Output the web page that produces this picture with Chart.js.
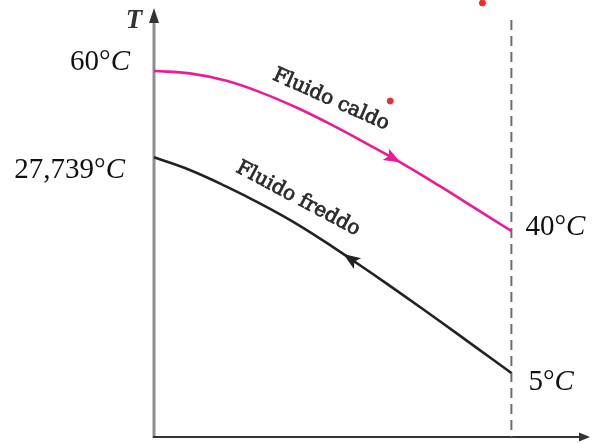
<!DOCTYPE html>
<html>
<head>
<meta charset="utf-8">
<script src="https://cdn.jsdelivr.net/npm/chart.js@4.4.1/dist/chart.umd.min.js"></script>
<style>
  html, body { margin: 0; padding: 0; background: #fff; }
  #wrap { width: 592px; height: 443px; }
</style>
</head>
<body>
<div id="wrap"><canvas id="c" width="592" height="443"></canvas></div>
<script>
// Position along the exchanger (0 = inlet of hot fluid, 1 = outlet)
const positions = [0, 0.1, 0.2, 0.3, 0.4, 0.5, 0.6, 0.7, 0.8, 0.9, 1];
// Hot fluid temperature profile (°C)
const hotTemps = [60, 59.7, 58.8, 57.3, 55.4, 53.2, 50.8, 48.3, 45.6, 42.8, 40];
// Cold fluid temperature profile (°C), counter-current
const coldTemps = [27.739, 26.4, 24.7, 22.8, 20.7, 18.3, 15.75, 13.13, 10.45, 7.73, 5];
// Two small red marks
const dotPositions = [0.661, 0.919];
const dotTemps = [56.25, 68.5];
// Series names
const hotName = 'Fluido caldo';
const coldName = 'Fluido freddo';
const axisName = 'T';

const HOT = '#ec1a96';
const COLD = '#222222';

const xy = (xs, ys) => xs.map((x, i) => ({ x: x, y: ys[i] }));

function fmtTemp(v) {
  return String(v).replace('.', ',') + '°';
}

// Draws "NN°" upright followed by an italic "C"
function drawTemp(ctx, v, x, y, align) {
  const num = fmtTemp(v);
  const upFont = '29px "Liberation Serif"';
  const itFont = 'italic 29px "Liberation Serif"';
  ctx.font = upFont;
  const w1 = ctx.measureText(num).width;
  ctx.font = itFont;
  const w2 = ctx.measureText('C').width;
  let x0 = align === 'right' ? x - (w1 + w2) : x;
  ctx.fillStyle = '#111';
  ctx.textBaseline = 'alphabetic';
  ctx.textAlign = 'left';
  ctx.font = upFont;
  ctx.fillText(num, x0, y);
  ctx.font = itFont;
  ctx.fillText('C', x0 + w1, y);
}

function pointOnLine(meta, px) {
  const pts = meta.data;
  for (let i = 0; i < pts.length - 1; i++) {
    const a = pts[i], b = pts[i + 1];
    if (px >= a.x && px <= b.x) {
      const t = (px - a.x) / (b.x - a.x);
      return { x: a.x + t * (b.x - a.x), y: a.y + t * (b.y - a.y), dx: b.x - a.x, dy: b.y - a.y };
    }
  }
  const a = pts[pts.length - 2], b = pts[pts.length - 1];
  return { x: b.x, y: b.y, dx: b.x - a.x, dy: b.y - a.y };
}

function drawArrowHead(ctx, tipX, tipY, ang, len, half, color) {
  ctx.save();
  ctx.translate(tipX, tipY);
  ctx.rotate(ang);
  ctx.beginPath();
  ctx.moveTo(0, 0);
  ctx.lineTo(-len, -half);
  ctx.lineTo(-len * 0.78, 0);
  ctx.lineTo(-len, half);
  ctx.closePath();
  ctx.fillStyle = color;
  ctx.fill();
  ctx.restore();
}

function drawRotated(ctx, text, cx, cy, angDeg, font, color) {
  ctx.save();
  ctx.translate(cx, cy);
  ctx.rotate(angDeg * Math.PI / 180);
  ctx.font = font;
  ctx.fillStyle = color;
  ctx.strokeStyle = color;
  ctx.lineWidth = 0.8;
  ctx.textAlign = 'center';
  ctx.textBaseline = 'middle';
  ctx.fillText(text, 0, 0);
  ctx.strokeText(text, 0, 0);
  ctx.restore();
}

const decor = {
  id: 'decor',
  beforeDatasetsDraw(chart) {
    const { ctx, chartArea: ca, scales } = chart;
    const xEnd = scales.x.getPixelForValue(1);
    ctx.save();
    // vertical (temperature) axis
    ctx.strokeStyle = '#8e8e8e';
    ctx.lineWidth = 3;
    ctx.beginPath();
    ctx.moveTo(ca.left, ca.bottom + 1);
    ctx.lineTo(ca.left, ca.top + 20);
    ctx.stroke();
    ctx.fillStyle = '#333';
    ctx.beginPath();
    ctx.moveTo(ca.left, ca.top + 8);
    ctx.lineTo(ca.left - 5, ca.top + 23);
    ctx.lineTo(ca.left + 5, ca.top + 23);
    ctx.closePath();
    ctx.fill();
    // horizontal axis
    ctx.strokeStyle = '#333';
    ctx.lineWidth = 2;
    ctx.beginPath();
    ctx.moveTo(ca.left - 1, ca.bottom);
    ctx.lineTo(ca.right - 8, ca.bottom);
    ctx.stroke();
    ctx.beginPath();
    ctx.moveTo(ca.right, ca.bottom);
    ctx.lineTo(ca.right - 11, ca.bottom - 4.5);
    ctx.lineTo(ca.right - 11, ca.bottom + 4.5);
    ctx.closePath();
    ctx.fill();
    // dashed outlet line
    ctx.strokeStyle = '#6e6e6e';
    ctx.lineWidth = 2;
    ctx.setLineDash([10, 6]);
    ctx.beginPath();
    ctx.moveTo(xEnd, ca.top + 20);
    ctx.lineTo(xEnd, ca.bottom);
    ctx.stroke();
    ctx.setLineDash([]);
    ctx.restore();
  },
  afterDatasetsDraw(chart) {
    const { ctx, chartArea: ca, scales } = chart;
    const xs = scales.x, yh = scales.yHot, yc = scales.yCold;
    const xEnd = xs.getPixelForValue(1);
    ctx.save();
    // flow direction arrows
    const ph = pointOnLine(chart.getDatasetMeta(0), xs.getPixelForValue(0.69));
    drawArrowHead(ctx, ph.x, ph.y, Math.atan2(ph.dy, ph.dx), 17, 6.5, HOT);
    const pc = pointOnLine(chart.getDatasetMeta(1), xs.getPixelForValue(0.53));
    drawArrowHead(ctx, pc.x, pc.y, Math.atan2(-pc.dy, -pc.dx), 17, 6.5, COLD);

    // series names along the curves
    drawRotated(ctx, hotName, xs.getPixelForValue(0.495), yh.getPixelForValue(56.4), 24,
      '20px "DejaVu Serif"', '#2b2b2b');
    drawRotated(ctx, coldName, xs.getPixelForValue(0.403), yc.getPixelForValue(23.35), 28,
      '20px "DejaVu Serif"', '#2b2b2b');

    // axis name
    ctx.font = 'italic bold 27px "Liberation Serif"';
    ctx.fillStyle = '#333';
    ctx.textAlign = 'center';
    ctx.textBaseline = 'alphabetic';
    ctx.fillText(axisName, ca.left - 20, ca.top + 28);

    // inlet / outlet temperatures
    drawTemp(ctx, hotTemps[0], ca.left - 24, yh.getPixelForValue(hotTemps[0]) - 1, 'right');
    drawTemp(ctx, coldTemps[0], ca.left - 29, yc.getPixelForValue(coldTemps[0]) + 21, 'right');
    drawTemp(ctx, hotTemps[hotTemps.length - 1], xEnd + 14, yh.getPixelForValue(hotTemps[hotTemps.length - 1]) + 4, 'left');
    drawTemp(ctx, coldTemps[coldTemps.length - 1], xEnd + 17, yc.getPixelForValue(coldTemps[coldTemps.length - 1]) + 17, 'left');
    ctx.restore();
  }
};

new Chart(document.getElementById('c'), {
  type: 'line',
  data: {
    datasets: [
      {
        label: hotName,
        data: xy(positions, hotTemps),
        yAxisID: 'yHot',
        borderColor: HOT,
        borderWidth: 2.6,
        pointRadius: 0,
        tension: 0.4,
        fill: false,
        clip: false
      },
      {
        label: coldName,
        data: xy(positions, coldTemps),
        yAxisID: 'yCold',
        borderColor: COLD,
        borderWidth: 2.6,
        pointRadius: 0,
        tension: 0.4,
        fill: false,
        clip: false
      },
      {
        type: 'scatter',
        label: 'marks',
        data: xy(dotPositions, dotTemps),
        yAxisID: 'yHot',
        backgroundColor: '#e8302a',
        borderColor: '#e8302a',
        pointRadius: 3,
        showLine: false,
        clip: false
      }
    ]
  },
  options: {
    responsive: false,
    animation: false,
    layout: { autoPadding: false, padding: { left: 154, right: 2, top: 0, bottom: 6 } },
    plugins: { legend: { display: false }, tooltip: { enabled: false } },
    scales: {
      x: { type: 'linear', min: 0, max: 1.22, display: false },
      yHot: { type: 'linear', min: 14.25, max: 68.875, display: false },
      yCold: { type: 'linear', min: -1.747, max: 44.32, display: false }
    }
  },
  plugins: [decor]
});
</script>
</body>
</html>
